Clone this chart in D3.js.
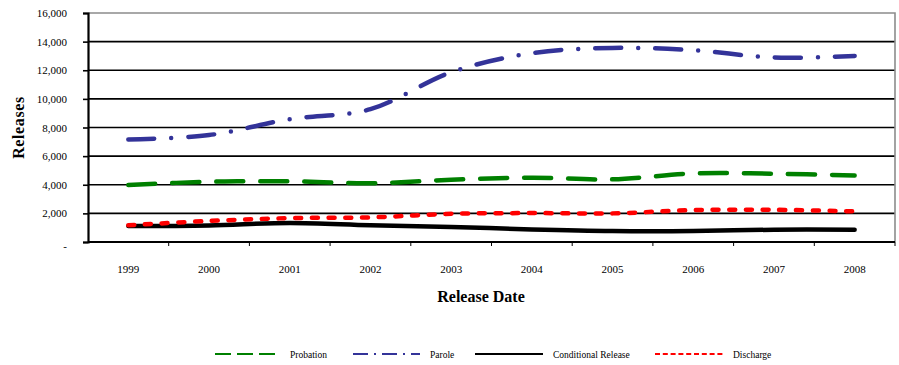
<!DOCTYPE html>
<html>
<head>
<meta charset="utf-8">
<script src="https://cdn.jsdelivr.net/npm/d3@7"></script>
<style>
  html, body { margin: 0; padding: 0; background: #fff; }
  svg { display: block; }
  svg text { font-family: "Liberation Serif", "Times New Roman", serif; }
</style>
</head>
<body>
<svg id="chart" width="899" height="365"></svg>
<script>
// Annual releases by type, 1999-2008
const years = ["1999", "2000", "2001", "2002", "2003", "2004", "2005", "2006", "2007", "2008"];
const probation = [3980, 4210, 4240, 4100, 4350, 4490, 4380, 4790, 4770, 4650];
const parole = [7170, 7470, 8580, 9280, 11860, 13190, 13560, 13400, 12890, 13000];
const conditionalRelease = [1120, 1160, 1330, 1170, 1050, 880, 770, 770, 860, 860];
const discharge = [1170, 1470, 1670, 1720, 1970, 2020, 2000, 2230, 2250, 2140];
const yTicks = [0, 2000, 4000, 6000, 8000, 10000, 12000, 14000, 16000];

const series = [
  { name: "Probation", values: probation, color: "#008000", dash: "27,17", cap: "round",
    legendDash: "16,6" },
  { name: "Parole", values: parole, color: "#333399", dash: "26,17,0,17", cap: "round",
    legendDash: "15,6,2,6" },
  { name: "Conditional Release", values: conditionalRelease, color: "#000000", dash: null, cap: "round",
    legendDash: null },
  { name: "Discharge", values: discharge, color: "#ff0000", dash: "6,10.7", cap: "round",
    legendDash: "5,2.8" }
];

const svg = d3.select("#chart");
const plot = { left: 88, right: 895, top: 13, bottom: 242 };

const x = d3.scaleBand().domain(years).range([plot.left, plot.right]);
const y = d3.scaleLinear().domain([0, 16000]).range([plot.bottom, plot.top]);

// Horizontal gridlines
svg.append("g")
  .selectAll("line")
  .data(yTicks.filter(d => d > 0 && d < 16000))
  .join("line")
  .attr("x1", plot.left).attr("x2", plot.right)
  .attr("y1", d => y(d)).attr("y2", d => y(d))
  .attr("stroke", "#000").attr("stroke-width", 1.6);

// Top and right frame
svg.append("path")
  .attr("d", `M${plot.left},${y(16000)}H${plot.right}V${plot.bottom}`)
  .attr("fill", "none").attr("stroke", "#8c8c8c").attr("stroke-width", 1.6);

// Y axis
const yAxis = d3.axisLeft(y)
  .tickValues(yTicks)
  .tickSize(5)
  .tickPadding(16)
  .tickFormat(d => d === 0 ? "-" : d3.format(",")(d));
const gy = svg.append("g").attr("transform", `translate(${plot.left},0)`).call(yAxis);
gy.attr("font-family", null);
gy.select(".domain").attr("stroke", "#000").attr("stroke-width", 2.2);
gy.selectAll(".tick line").attr("stroke", "#000").attr("stroke-width", 1.6);
gy.selectAll(".tick text")
  .attr("font-size", 11).attr("fill", "#000");
gy.selectAll(".tick text").filter(d => d === 0).attr("dy", "0.7em");

// X axis: ticks sit between categories
const gx = svg.append("g").attr("transform", `translate(0,${plot.bottom})`);
gx.append("line")
  .attr("x1", plot.left).attr("x2", plot.right)
  .attr("stroke", "#000").attr("stroke-width", 2.2);
gx.selectAll("line.tk")
  .data(years.slice(1).concat(["end"]))
  .join("line")
  .attr("class", "tk")
  .attr("x1", (d, i) => i < years.length - 1 ? x(d) : plot.right)
  .attr("x2", (d, i) => i < years.length - 1 ? x(d) : plot.right)
  .attr("y1", 0).attr("y2", 4)
  .attr("stroke", "#000").attr("stroke-width", 1);
gx.selectAll("text")
  .data(years)
  .join("text")
  .attr("x", d => x(d) + x.bandwidth() / 2)
  .attr("y", 31)
  .attr("text-anchor", "middle")
  .attr("font-size", 11)
  .text(d => d);

// Axis titles
svg.append("text")
  .attr("transform", `translate(24,${(plot.top + plot.bottom) / 2}) rotate(-90)`)
  .attr("text-anchor", "middle")
  .attr("font-size", 16).attr("font-weight", "bold")
  .attr("letter-spacing", 0.6)
  .text("Releases");

svg.append("text")
  .attr("x", 481).attr("y", 302)
  .attr("text-anchor", "middle")
  .attr("font-size", 16).attr("font-weight", "bold")
  .text("Release Date");

// Series lines
const line = d3.line()
  .x((d, i) => x(years[i]) + x.bandwidth() / 2)
  .y(d => y(d))
  .curve(d3.curveCatmullRom.alpha(0.5));

svg.append("g")
  .selectAll("path")
  .data(series)
  .join("path")
  .attr("d", d => line(d.values))
  .attr("fill", "none")
  .attr("stroke", d => d.color)
  .attr("stroke-width", 4.5)
  .attr("stroke-linecap", d => d.cap)
  .attr("stroke-linejoin", "round")
  .attr("stroke-dasharray", d => d.dash);

// Legend
const legendItems = [
  { x1: 215, x2: 275, tx: 290 },
  { x1: 353, x2: 420, tx: 430 },
  { x1: 475, x2: 543, tx: 553 },
  { x1: 655, x2: 725, tx: 733 }
];
const legendY = 354;
const lg = svg.append("g").selectAll("g")
  .data(series)
  .join("g");
lg.append("line")
  .attr("x1", (d, i) => legendItems[i].x1)
  .attr("x2", (d, i) => legendItems[i].x2)
  .attr("y1", legendY).attr("y2", legendY)
  .attr("stroke", d => d.color)
  .attr("stroke-width", 2.2)
  .attr("stroke-dasharray", d => d.legendDash);
lg.append("text")
  .attr("x", (d, i) => legendItems[i].tx)
  .attr("y", legendY + 3.5)
  .attr("font-size", 9.5)
  .text(d => d.name);
</script>
</body>
</html>
